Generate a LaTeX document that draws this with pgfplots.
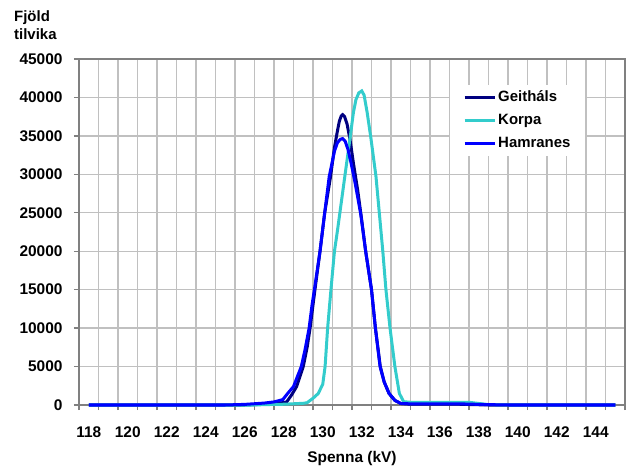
\documentclass[border=0pt]{standalone}
\usepackage{fontspec}
\setmainfont{Liberation Sans}
\usepackage{pgfplots}
\pgfplotsset{compat=1.18}
\definecolor{cGeit}{HTML}{000080}
\definecolor{cKorp}{HTML}{33CCCC}
\definecolor{cHamr}{HTML}{0000FF}
\definecolor{cGrid}{HTML}{C0C0C0}
\definecolor{cFrame}{HTML}{808080}
\begin{document}
\begin{tikzpicture}
\useasboundingbox (0,0) rectangle (632bp,470bp);
\begin{axis}[
  at={(79bp,65bp)}, anchor=south west,
  scale only axis, width=546bp, height=346bp,
  xmin=117.5, xmax=145.5, ymin=0, ymax=45000,
  xtick={118,120,...,144},
  minor xtick={117.5,118.5,...,145.5},
  ytick={0,5000,...,45000},
  major x tick style={draw=none},
  xmajorgrids=false, xminorgrids=true, ymajorgrids=true,
  grid style={cGrid, line width=1.3bp},
  minor grid style={cGrid, line width=1.3bp},
  axis line style={cFrame, line width=1.5bp},
  tick align=outside,
  major tick length=5bp, minor tick length=5bp,
  every tick/.style={cFrame, line width=1.3bp},
  minor tick style={cFrame, line width=1.3bp},
  xtick pos=bottom, ytick pos=left,
  scaled y ticks=false,
  /pgf/number format/1000 sep={},
  /pgf/number format/assume math mode=true,
  tick label style={font=\fontsize{15.5}{17}\selectfont\bfseries},
  xticklabel style={anchor=base, yshift=-27bp},
  yticklabel style={xshift=-8bp},
  xlabel={Spenna (kV)},
  xlabel style={font=\fontsize{15.5}{17}\selectfont\bfseries, at={(axis description cs:0.5,0)}, anchor=base, yshift=-57bp},
  legend style={at={(0.6795,0.9249)}, anchor=north west, draw=none, fill=white,
    font=\fontsize{15}{17}\selectfont\bfseries, inner xsep=13bp, inner ysep=4bp,
    row sep=6bp, nodes={inner sep=2bp, text height=10bp, text depth=3bp}},
  legend cell align=left,
  legend image code/.code={\draw[#1] (0bp,0bp) -- (30bp,0bp);},
  clip=false,
]
\addplot[cGeit, line width=3bp] coordinates {
(118,0) (126,0) (127,100) (127.8,250) (128.15,400) (128.4,1300) (128.66,2400)
(129.0,5000) (129.2,7500) (129.35,10000) (129.6,15000) (129.86,20000) (130.1,25000)
(130.4,29700) (130.6,33500) (130.75,35600) (130.85,36900) (130.95,37600) (131.02,37760)
(131.12,37500) (131.25,36500) (131.4,34500) (131.57,31500) (131.8,27800) (132.0,24000)
(132.2,20000) (132.5,15000) (132.7,10000) (132.95,5000)
(133.15,3000) (133.4,1500) (133.7,600) (134.0,200) (134.5,100) (137,100) (138.5,0) (145,0)
};
\addlegendentry{Geitháls}
\addplot[cKorp, line width=3bp] coordinates {
(118,0) (126.5,0) (127,50) (128,100) (129,220) (129.2,300) (129.5,870) (129.77,1500)
(130.0,2700) (130.12,5000) (130.25,10000) (130.42,15000) (130.6,20000) (130.75,22600)
(131.13,29700) (131.4,34700) (131.57,38000) (131.7,39700) (131.85,40600) (132.0,40850)
(132.12,40300) (132.28,38000) (132.47,34700) (132.73,29700) (132.9,25000) (133.08,20000)
(133.24,15000) (133.45,10000) (133.7,5000) (133.93,1500) (134.15,430) (134.5,350)
(137.5,350) (138.5,50) (139.5,0) (145,0)
};
\addlegendentry{Korpa}
\addplot[cHamr, line width=3bp] coordinates {
(118,0) (125,0) (126,80) (127,250) (127.5,400) (127.95,700) (128.2,1500) (128.5,2400)
(128.9,5000) (129.1,7300) (129.3,10000) (129.45,13000) (129.6,15500) (129.86,20000)
(130.1,25000) (130.33,29700) (130.6,33000) (130.75,34100) (130.9,34550) (131.02,34650)
(131.15,34300) (131.3,33200) (131.45,31500) (131.65,29000) (131.95,24800) (132.2,20000)
(132.5,15000) (132.7,10000) (132.94,5000) (133.15,3000) (133.4,1500) (133.7,600)
(134.0,200) (134.5,150) (137,150) (138.5,50) (139.5,0) (145,0)
};
\addlegendentry{Hamranes}
\end{axis}
\node[anchor=north west, align=left, inner sep=0pt, font=\fontsize{15}{19}\selectfont\bfseries]
  at (14bp,460bp) {Fjöld\\tilvika};
\end{tikzpicture}
\end{document}
